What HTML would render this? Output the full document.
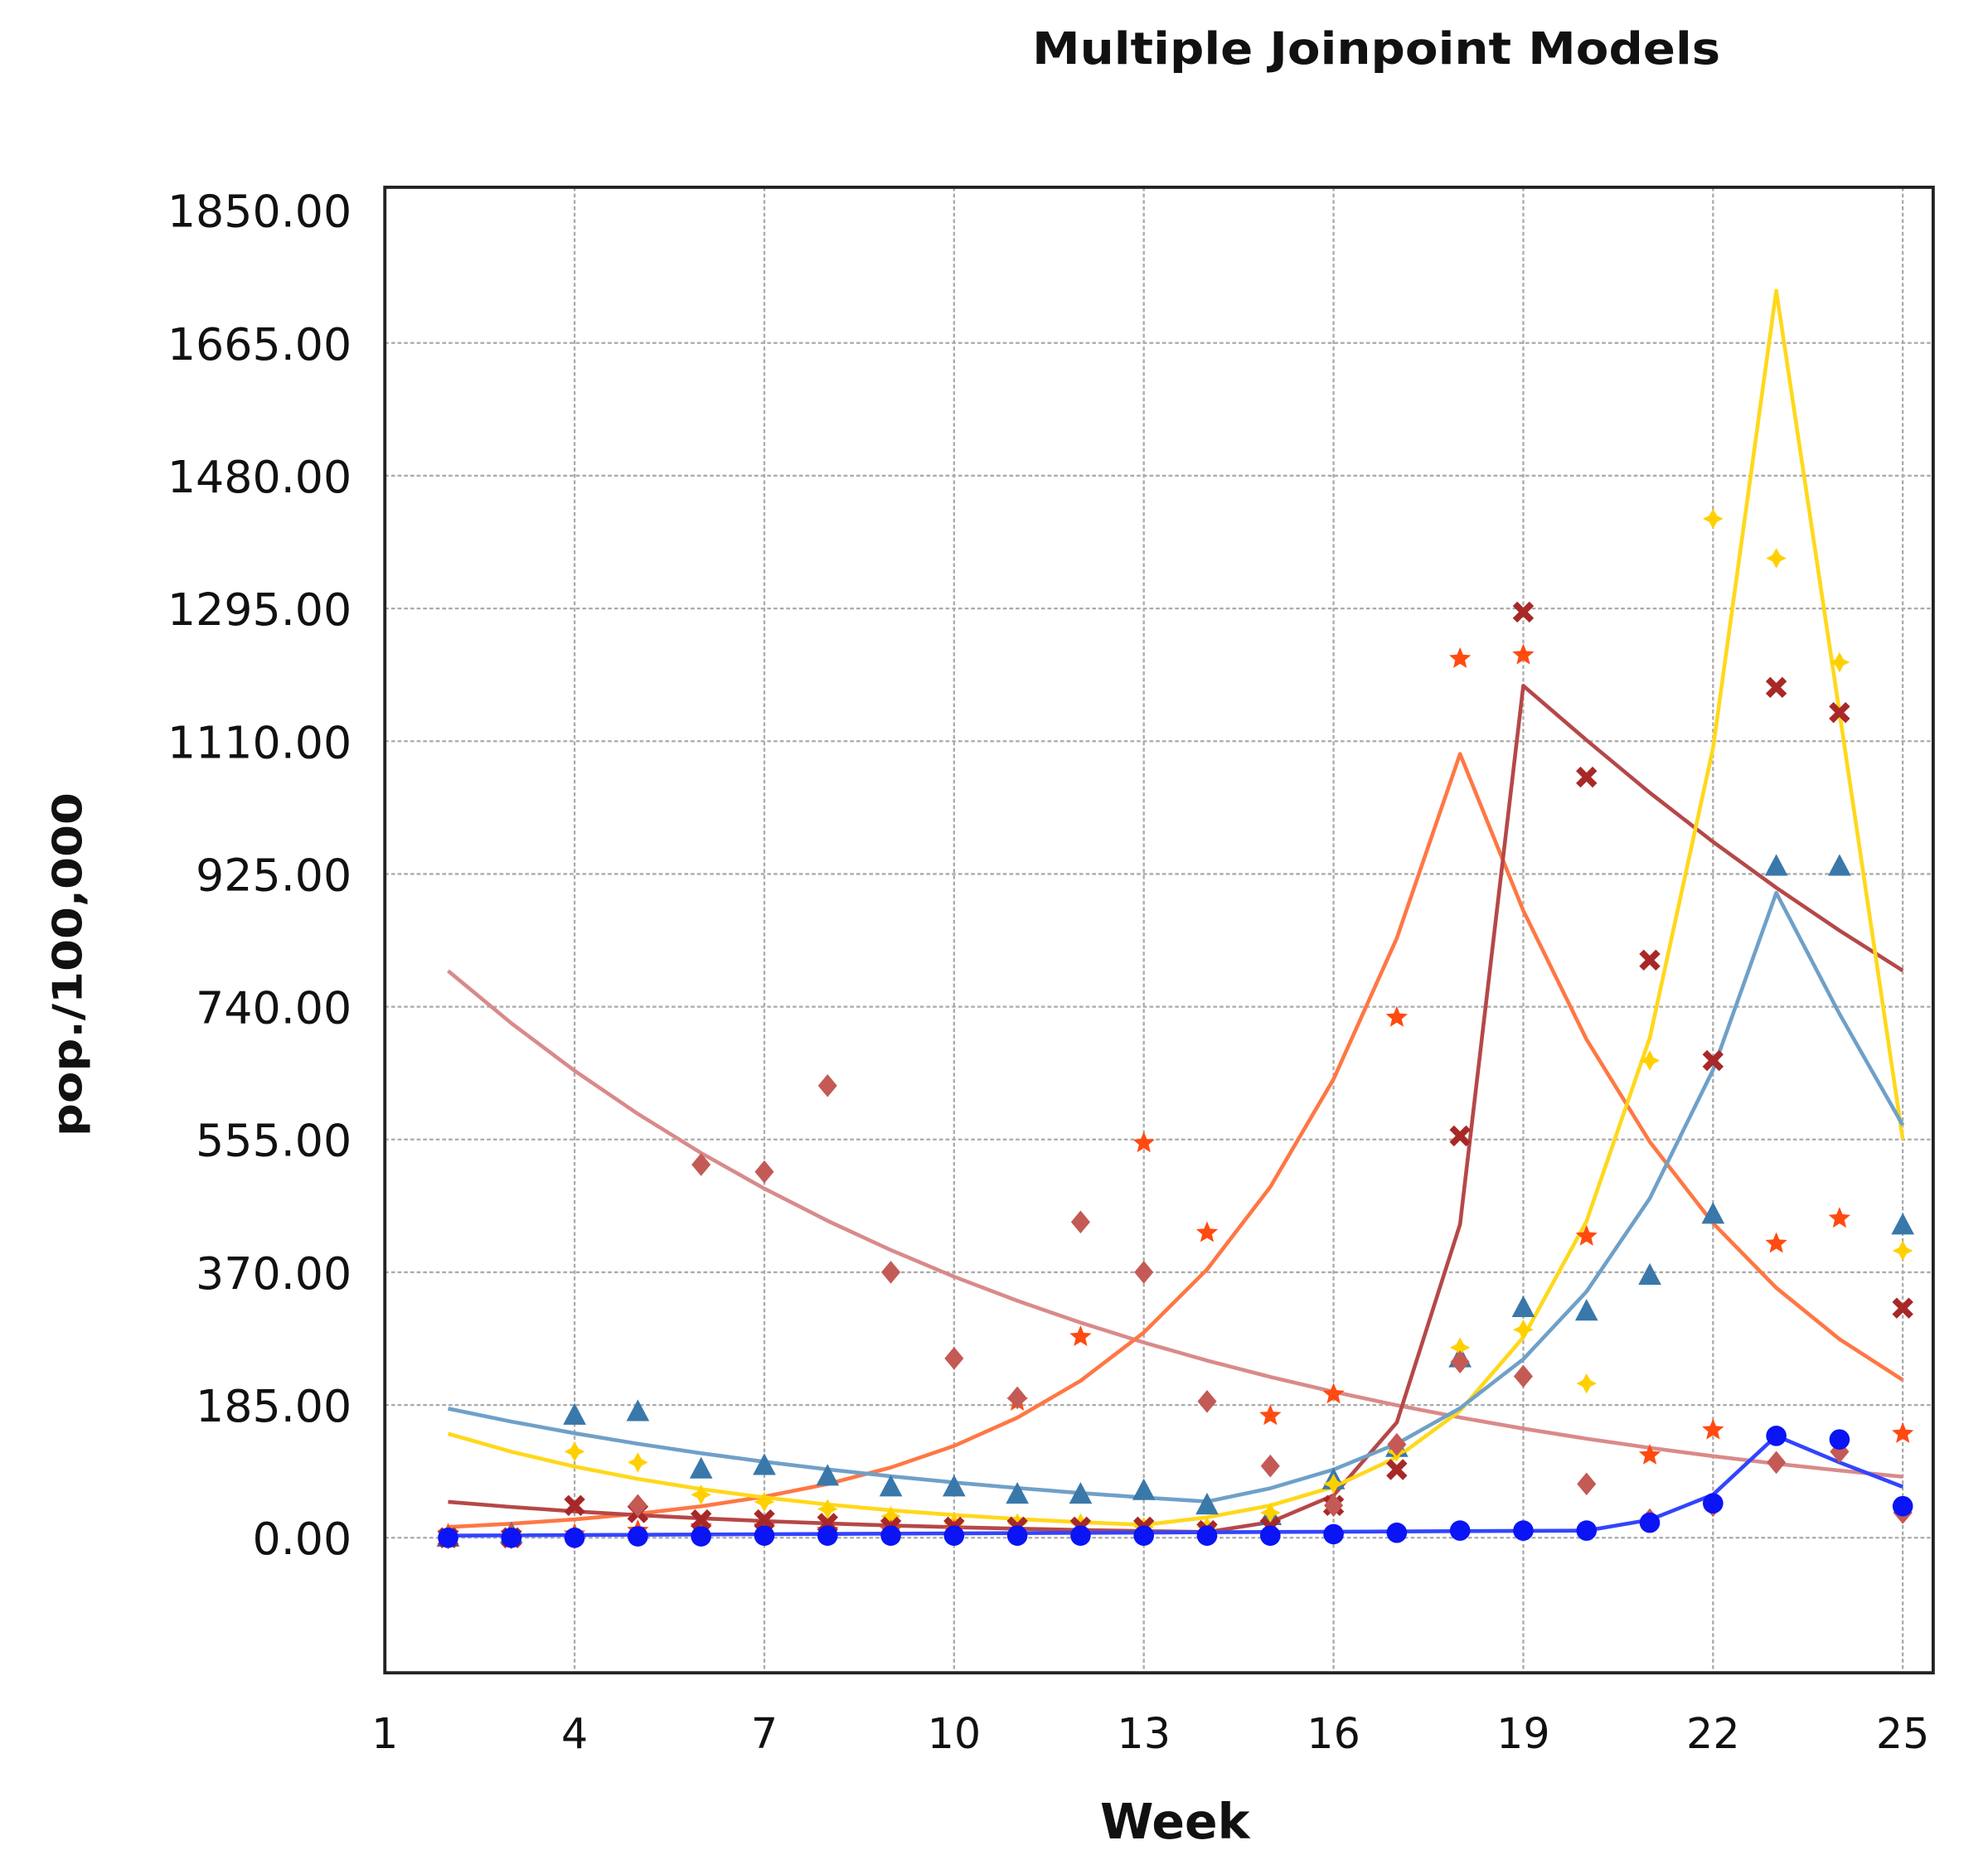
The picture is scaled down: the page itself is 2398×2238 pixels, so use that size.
<!DOCTYPE html>
<html><head><meta charset="utf-8"><style>
html,body{margin:0;padding:0;background:#fff;}
svg{display:block;}
text{font-family:"DejaVu Sans","Liberation Sans",sans-serif;}
</style></head><body>
<svg id="c" width="2398" height="2238" viewBox="0 0 1560 1456" preserveAspectRatio="none" xmlns="http://www.w3.org/2000/svg">
<rect width="1560" height="1456" fill="#fff"/>
<text x="1080" y="50" text-anchor="middle" font-size="35" font-weight="bold" fill="#111" textLength="540" lengthAdjust="spacingAndGlyphs">Multiple Joinpoint Models</text>
<text x="922" y="1443" text-anchor="middle" font-size="38" font-weight="bold" fill="#111">Week</text>
<text transform="translate(64,757) rotate(-90)" text-anchor="middle" font-size="32" font-weight="bold" fill="#111" textLength="270" lengthAdjust="spacingAndGlyphs">pop./100,000</text>
<g id="grid"></g>
<g id="series"></g>
<rect x="302" y="147" width="1215" height="1166" fill="none" stroke="#222" stroke-width="2.5"/>
<g id="labels"></g>
</svg>
<script>
const NS="http://www.w3.org/2000/svg";
const X=w=>302+(w-1)*49.63, Y=v=>1207-v*104.2/185;
function el(p,t,a,txt){const e=document.createElementNS(NS,t);for(const k in a)e.setAttribute(k,a[k]);if(txt!=null)e.textContent=txt;p.appendChild(e);return e;}
const g=document.getElementById('grid'),lab=document.getElementById('labels'),s=document.getElementById('series');
for(let i=0;i<=10;i++){const v=185*i,y=Y(v);
 if(i<10)el(g,'line',{x1:302,x2:1517,y1:y,y2:y,stroke:'#aaa','stroke-width':1.5,'stroke-dasharray':'3,2'});
 el(lab,'text',{x:276,y:y+13,'text-anchor':'end','font-size':35,fill:'#111'},v.toFixed(2));}
for(let w=1;w<=25;w+=3){const x=X(w);
 if(w>1)el(g,'line',{x1:x,x2:x,y1:147,y2:1313,stroke:'#aaa','stroke-width':1.5,'stroke-dasharray':'3,2'});
 el(lab,'text',{x:x,y:1372,'text-anchor':'middle','font-size':33,fill:'#111'},String(w));}
function line(pts,c,wd){el(s,'polyline',{points:pts.map(p=>X(p[0])+','+Y(p[1])).join(' '),fill:'none',stroke:c,'stroke-width':wd||3,'stroke-linejoin':'round'});}
function fn(a,b,f){const r=[];for(let w=a;w<=b;w++)r.push([w,f(w)]);return r;}
function mk(type,w,v,c){const x=X(w),y=Y(v);let d;
 if(type=='dia')d=`M${x},${y-9}L${x+7.5},${y}L${x},${y+9}L${x-7.5},${y}Z`;
 else if(type=='ydia')d=`M${x},${y-8}L${x+3},${y-2.5}L${x+8},${y}L${x+3},${y+2.5}L${x},${y+8}L${x-3},${y+2.5}L${x-8},${y}L${x-3},${y-2.5}Z`;
 else if(type=='tri')d=`M${x},${y-10}L${x+9},${y+7}L${x-9},${y+7}Z`;
 else if(type=='star'){d='';for(let i=0;i<10;i++){const r=i%2?4:9,a=-Math.PI/2+i*Math.PI/5;d+=(i?'L':'M')+(x+r*Math.cos(a))+','+(y+r*Math.sin(a));}d+='Z';}
 if(type=='x'){el(s,'path',{d:`M${x-6.5},${y-6.5}L${x+6.5},${y+6.5}M${x+6.5},${y-6.5}L${x-6.5},${y+6.5}`,stroke:c,'stroke-width':5});return;}
 if(type=='circ'){el(s,'circle',{cx:x,cy:y,r:8,fill:c});return;}
 el(s,'path',{d:d,fill:c});}
line(fn(2,25,w=>790*Math.exp(-0.0969*(w-2))),'#d98a8a');
line(fn(2,18,w=>15*Math.exp(0.268*(w-2))).concat(fn(19,25,w=>1100*Math.exp(-0.23*(w-18)))),'#ff7744');
line(fn(2,14,w=>50*Math.exp(-0.153*(w-2))).concat(fn(15,19,w=>8*Math.exp(1.0*(w-14)))).concat(fn(20,25,w=>1190*Math.exp(-0.0682*(w-19)))),'#b54848');
line(fn(2,13,w=>145*Math.exp(-0.19*(w-2))).concat(fn(14,23,w=>18*Math.exp(0.457*(w-13)))).concat([[24,1150],[25,555]]),'#ffd81a');
line(fn(2,14,w=>180*Math.exp(-0.106*(w-2))).concat(fn(15,23,w=>50*Math.exp(0.321*(w-14)))).concat([[24,730],[25,575]]),'#6fa0c8');
line([[2,3],[20,10],[21,25],[22,60],[23,142],[24,105],[25,71]],'#3344ff');
const dia=[0,0,0,45,520,510,630,370,250,195,440,370,190,100,45,130,245,225,75,25,45,105,120,35];
const star=[5,5,5,10,15,15,10,10,10,190,280,550,425,170,200,725,1225,1230,420,115,150,410,445,145];
const xs=[0,0,45,35,25,25,20,15,15,15,15,15,10,15,45,95,560,1290,1060,805,665,1185,1150,320];
const yel=[0,5,120,105,60,50,40,30,20,20,20,15,15,35,75,120,265,290,215,665,1420,1365,1220,400];
const tri=[0,5,170,175,95,100,85,70,70,60,60,65,45,30,80,125,250,320,315,365,450,935,935,435];
const circ=[0,0,0,2,2,3,3,3,3,3,3,3,3,3,5,7,10,10,10,21,48,142,137,44];
for(let i=0;i<24;i++){const w=i+2;
 mk('tri',w,tri[i],'#3a78aa');mk('ydia',w,yel[i],'#ffd000');mk('star',w,star[i],'#ff4a10');
 mk('x',w,xs[i],'#a82828');mk('dia',w,dia[i],'#c45a55');mk('circ',w,circ[i],'#0a14f5');}
</script>
</body></html>
